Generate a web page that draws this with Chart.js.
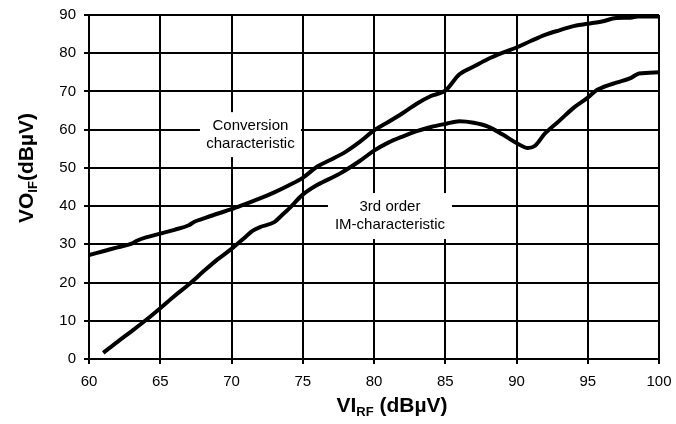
<!DOCTYPE html>
<html>
<head>
<meta charset="utf-8">
<script src="https://cdn.jsdelivr.net/npm/chart.js@4"></script>
<style>
  body { margin: 0; background: #fff; }
  #wrap { width: 676px; height: 424px; }
</style>
</head>
<body>
<div id="wrap"><canvas id="chart" width="676" height="424"></canvas></div>
<script>
// Data (x in dBµV of VI_RF, y in dBµV of VO_IF)
const convX = [60, 61, 62, 63, 63.4, 64, 65, 66, 67, 67.4, 68, 69, 70, 71, 72, 73, 74, 75, 76, 77, 78, 79, 80,
  81, 82, 83, 84, 85, 86, 87, 88, 89, 90, 91, 92, 93, 94, 95, 96, 97, 98, 98.5, 100];
const convY = [27.2, 28.2, 29.2, 30.2, 31, 31.8, 32.8, 33.8, 35, 35.9, 36.7, 38, 39.2, 40.6, 42, 43.6, 45.4, 47.4, 50.3, 52.2, 54.2, 56.8, 59.8,
  62, 64.3, 66.8, 68.8, 70.2, 74.5, 76.5, 78.5, 80.1, 81.5, 83.2, 84.8, 86, 87.1, 87.7, 88.3, 89.2, 89.3, 89.6, 89.6];

const imX = [61, 62, 63, 64, 65, 66, 67, 68, 69, 70, 71, 71.5, 72, 73, 73.5, 74, 75, 76, 77.6, 79, 80,
  81, 82, 83, 84, 85, 86, 87, 88, 89, 90, 90.8, 91.3, 92, 93, 94, 95, 95.6, 96, 97, 98, 98.6, 100];
const imY = [1.6, 4.5, 7.3, 10.2, 13.3, 16.5, 19.5, 22.8, 26, 28.8, 32, 33.6, 34.5, 35.8, 37.5, 39.2, 43, 45.5, 48.5, 51.8, 54.5,
  56.6, 58.2, 59.6, 60.7, 61.5, 62.2, 61.8, 60.8, 58.8, 56.5, 55.2, 55.8, 59, 62.3, 65.7, 68.4, 70.3, 71, 72.3, 73.5, 74.7, 75];

const xTicks = [60, 65, 70, 75, 80, 85, 90, 95, 100];
const yTicks = [0, 10, 20, 30, 40, 50, 60, 70, 80, 90];

// Curve labels: anchor in data units, box size in px
const notes = [
  { x: 71.33, y: 58.7, w: 101, h: 45, lines: ['Conversion', 'characteristic'] },
  { x: 81.12, y: 37.4, w: 124, h: 46, lines: ['3rd order', 'IM-characteristic'] }
];

const toPoints = (xs, ys) => xs.map((x, i) => ({ x, y: ys[i] }));

function drawParts(ctx, parts, size) {
  const subSize = Math.round(size * 0.62);
  let w = 0;
  parts.forEach(p => {
    ctx.font = 'bold ' + (p.sub ? subSize : size) + 'px Arial, "Liberation Sans", sans-serif';
    p.w = ctx.measureText(p.t).width;
    w += p.w;
  });
  let x = -w / 2;
  parts.forEach(p => {
    ctx.font = 'bold ' + (p.sub ? subSize : size) + 'px Arial, "Liberation Sans", sans-serif';
    ctx.fillText(p.t, x, p.sub ? 4 : 0);
    x += p.w;
  });
}

const annotations = {
  id: 'annotations',
  beforeDatasetsDraw(chart) {
    const { ctx, scales } = chart;
    ctx.save();
    notes.forEach(n => {
      const cx = scales.x.getPixelForValue(n.x);
      const cy = scales.y.getPixelForValue(n.y);
      ctx.fillStyle = '#fff';
      ctx.fillRect(cx - n.w / 2, cy - n.h / 2, n.w, n.h);
      ctx.fillStyle = '#000';
      ctx.font = '15px Arial, "Liberation Sans", sans-serif';
      ctx.textAlign = 'center';
      ctx.textBaseline = 'middle';
      ctx.fillText(n.lines[0], cx, cy - 9);
      ctx.fillText(n.lines[1], cx, cy + 9);
    });
    ctx.restore();
  },
  afterDraw(chart) {
    const { ctx } = chart;
    ctx.save();
    ctx.fillStyle = '#000';
    ctx.textAlign = 'left';
    ctx.textBaseline = 'alphabetic';
    ctx.translate(392, 412);
    drawParts(ctx, [{ t: 'VI' }, { t: 'RF', sub: true }, { t: ' (dBµV)' }], 21);
    ctx.restore();
    ctx.save();
    ctx.fillStyle = '#000';
    ctx.textAlign = 'left';
    ctx.textBaseline = 'alphabetic';
    ctx.translate(33, 168);
    ctx.rotate(-Math.PI / 2);
    drawParts(ctx, [{ t: 'VO' }, { t: 'IF', sub: true }, { t: '(dBµV)' }], 21);
    ctx.restore();
  }
};

const tickFont = { family: 'Arial, "Liberation Sans", sans-serif', size: 15 };

new Chart(document.getElementById('chart'), {
  type: 'scatter',
  data: {
    datasets: [
      { label: 'Conversion characteristic', data: toPoints(convX, convY) },
      { label: '3rd order IM-characteristic', data: toPoints(imX, imY) }
    ].map(d => ({
      ...d,
      showLine: true,
      borderColor: '#000',
      borderWidth: 4,
      pointRadius: 0,
      cubicInterpolationMode: 'monotone',
      fill: false
    }))
  },
  options: {
    responsive: false,
    animation: false,
    layout: { padding: { top: 15, right: 17, left: 0, bottom: 0 } },
    plugins: { legend: { display: false }, tooltip: { enabled: false } },
    scales: {
      x: {
        type: 'linear', min: 60, max: 100,
        afterBuildTicks: s => { s.ticks = xTicks.map(v => ({ value: v })); },
        afterFit: s => { s.height = 65; s.paddingLeft = 0; s.paddingRight = 0; },
        ticks: { color: '#000', font: tickFont, padding: 9, maxRotation: 0 },
        grid: { color: '#000', lineWidth: 2, tickLength: 5 },
        border: { color: '#000', width: 2 }
      },
      y: {
        min: 0, max: 90,
        afterBuildTicks: s => { s.ticks = yTicks.map(v => ({ value: v })); },
        afterFit: s => { s.width = 89; s.paddingTop = 0; s.paddingBottom = 0; },
        ticks: { color: '#000', font: tickFont, padding: 8 },
        grid: { color: '#000', lineWidth: 2, tickLength: 5 },
        border: { color: '#000', width: 2 }
      }
    }
  },
  plugins: [annotations]
});
</script>
</body>
</html>
